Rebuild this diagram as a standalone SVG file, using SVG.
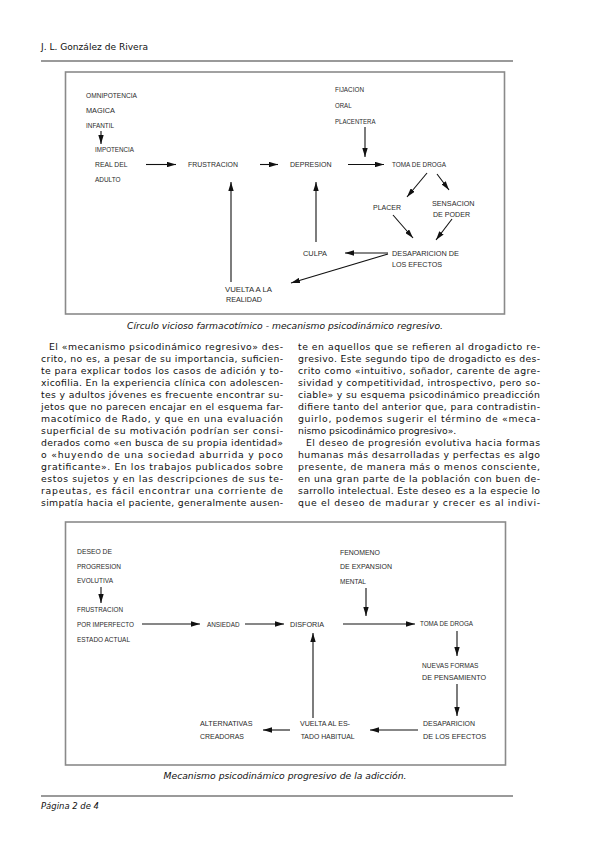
<svg xmlns="http://www.w3.org/2000/svg" width="599" height="848" viewBox="0 0 599 848">
<style>
.hdr{font-family:"DejaVu Sans","Liberation Sans",sans-serif;font-size:9.5px;fill:#111}
.cap{font-family:"DejaVu Sans","Liberation Sans",sans-serif;font-size:9px;font-style:italic;fill:#111}
.body{font-family:"DejaVu Sans","Liberation Sans",sans-serif;font-size:9.3px;fill:#111}
.lbl{font-family:"Liberation Sans","DejaVu Sans",sans-serif;font-size:7.2px;fill:#2a2a2a}
.box{fill:none;stroke:#8a8a8a;stroke-width:1.6}
.rule{stroke:#9a9a9a;stroke-width:2}
.arr{stroke:#111;stroke-width:1.1;fill:none;marker-end:url(#ah)}
</style>
<defs>
<marker id="ah" viewBox="0 0 10 6" refX="10" refY="3" markerWidth="9" markerHeight="5.4" orient="auto" markerUnits="userSpaceOnUse">
<path d="M0,0 L10,3 L0,6 z" fill="#111"/>
</marker>
</defs>
<rect width="599" height="848" fill="#fff"/>

<!-- header -->
<g id="header">
<text class="hdr" x="41" y="50" textLength="107" lengthAdjust="spacingAndGlyphs">J. L. González de Rivera</text>
<line class="rule" x1="41" y1="61" x2="513" y2="61"/>
</g>

<!-- diagram 1 -->
<g id="diagram1">
<rect class="box" x="65.5" y="72" width="439" height="242"/>
<g id="n-omnipotencia"><text class="lbl" x="86" y="98" textLength="51" lengthAdjust="spacingAndGlyphs">OMNIPOTENCIA</text><text class="lbl" x="86" y="113" textLength="29" lengthAdjust="spacingAndGlyphs">MAGICA</text><text class="lbl" x="86" y="128" textLength="28" lengthAdjust="spacingAndGlyphs">INFANTIL</text></g>
<g id="n-impotencia"><text class="lbl" x="95" y="152" textLength="39" lengthAdjust="spacingAndGlyphs">IMPOTENCIA</text><text class="lbl" x="95" y="167" textLength="32.5" lengthAdjust="spacingAndGlyphs">REAL DEL</text><text class="lbl" x="95" y="182" textLength="25.5" lengthAdjust="spacingAndGlyphs">ADULTO</text></g>
<g id="n-frustracion"><text class="lbl" x="188" y="167" textLength="50" lengthAdjust="spacingAndGlyphs">FRUSTRACION</text></g>
<g id="n-depresion"><text class="lbl" x="290" y="167" textLength="41.5" lengthAdjust="spacingAndGlyphs">DEPRESION</text></g>
<g id="n-toma1"><text class="lbl" x="392" y="167" textLength="54" lengthAdjust="spacingAndGlyphs">TOMA DE DROGA</text></g>
<g id="n-fijacion"><text class="lbl" x="335" y="92" textLength="29" lengthAdjust="spacingAndGlyphs">FIJACION</text><text class="lbl" x="335" y="108" textLength="16.5" lengthAdjust="spacingAndGlyphs">ORAL</text><text class="lbl" x="335" y="124" textLength="40.5" lengthAdjust="spacingAndGlyphs">PLACENTERA</text></g>
<g id="n-placer"><text class="lbl" x="373" y="210" textLength="28" lengthAdjust="spacingAndGlyphs">PLACER</text></g>
<g id="n-sensacion"><text class="lbl" x="432" y="206" textLength="42.5" lengthAdjust="spacingAndGlyphs">SENSACION</text><text class="lbl" x="433" y="217" textLength="37" lengthAdjust="spacingAndGlyphs">DE PODER</text></g>
<g id="n-desaparicion1"><text class="lbl" x="392" y="256" textLength="67" lengthAdjust="spacingAndGlyphs">DESAPARICION DE</text><text class="lbl" x="392" y="267" textLength="50" lengthAdjust="spacingAndGlyphs">LOS EFECTOS</text></g>
<g id="n-culpa"><text class="lbl" x="303" y="256" textLength="24" lengthAdjust="spacingAndGlyphs">CULPA</text></g>
<g id="n-vuelta1"><text class="lbl" x="225" y="292" textLength="47" lengthAdjust="spacingAndGlyphs">VUELTA A LA</text><text class="lbl" x="226" y="302" textLength="36" lengthAdjust="spacingAndGlyphs">REALIDAD</text></g>
<g id="connectors1">
<line class="arr" x1="101" y1="131" x2="101" y2="144"/>
<line class="arr" x1="146" y1="164.5" x2="176" y2="164.5"/>
<line class="arr" x1="260" y1="164.5" x2="278" y2="164.5"/>
<line class="arr" x1="348" y1="164.5" x2="384" y2="164.5"/>
<line class="arr" x1="365" y1="127" x2="365" y2="157"/>
<line class="arr" x1="427" y1="173" x2="407" y2="197"/>
<line class="arr" x1="437" y1="174" x2="449" y2="190"/>
<line class="arr" x1="393" y1="215" x2="413" y2="238"/>
<line class="arr" x1="452" y1="219" x2="436" y2="240"/>
<line class="arr" x1="388" y1="253" x2="345" y2="253"/>
<line class="arr" x1="316" y1="242" x2="316" y2="182"/>
<line class="arr" x1="388" y1="254" x2="291" y2="283"/>
<line class="arr" x1="231" y1="282" x2="231" y2="182"/>
</g>
</g>

<text class="cap" x="285" y="329" text-anchor="middle" textLength="316" lengthAdjust="spacingAndGlyphs">Círculo vicioso farmacotímico - mecanismo psicodinámico regresivo.</text>

<!-- body text left column -->
<g id="col-left">
<text class="body" x="49" y="349.5" textLength="234" lengthAdjust="spacing">El «mecanismo psicodinámico regresivo» des-</text>
<text class="body" x="41" y="361.5" textLength="242" lengthAdjust="spacing">crito, no es, a pesar de su importancia, suficien-</text>
<text class="body" x="41" y="373.5" textLength="242" lengthAdjust="spacing">te para explicar todos los casos de adición y to-</text>
<text class="body" x="41" y="385.5" textLength="242" lengthAdjust="spacing">xicofilia. En la experiencia clínica con adolescen-</text>
<text class="body" x="41" y="397.5" textLength="242" lengthAdjust="spacing">tes y adultos jóvenes es frecuente encontrar su-</text>
<text class="body" x="41" y="409.5" textLength="242" lengthAdjust="spacing">jetos que no parecen encajar en el esquema far-</text>
<text class="body" x="41" y="421.5" textLength="242" lengthAdjust="spacing">macotímico de Rado, y que en una evaluación</text>
<text class="body" x="41" y="433.5" textLength="242" lengthAdjust="spacing">superficial de su motivación podrían ser consi-</text>
<text class="body" x="41" y="445.5" textLength="242" lengthAdjust="spacing">derados como «en busca de su propia identidad»</text>
<text class="body" x="41" y="457.5" textLength="242" lengthAdjust="spacing">o «huyendo de una sociedad aburrida y poco</text>
<text class="body" x="41" y="469.5" textLength="242" lengthAdjust="spacing">gratificante». En los trabajos publicados sobre</text>
<text class="body" x="41" y="481.5" textLength="242" lengthAdjust="spacing">estos sujetos y en las descripciones de sus te-</text>
<text class="body" x="41" y="493.5" textLength="242" lengthAdjust="spacing">rapeutas, es fácil encontrar una corriente de</text>
<text class="body" x="41" y="505.5" textLength="242" lengthAdjust="spacing">simpatía hacia el paciente, generalmente ausen-</text>
</g>
<g id="col-right">
<text class="body" x="298" y="349.5" textLength="242" lengthAdjust="spacing">te en aquellos que se refieren al drogadicto re-</text>
<text class="body" x="298" y="361.5" textLength="242" lengthAdjust="spacing">gresivo. Este segundo tipo de drogadicto es des-</text>
<text class="body" x="298" y="373.5" textLength="242" lengthAdjust="spacing">crito como «intuitivo, soñador, carente de agre-</text>
<text class="body" x="298" y="385.5" textLength="242" lengthAdjust="spacing">sividad y competitividad, introspectivo, pero so-</text>
<text class="body" x="298" y="397.5" textLength="242" lengthAdjust="spacing">ciable» y su esquema psicodinámico preadicción</text>
<text class="body" x="298" y="409.5" textLength="242" lengthAdjust="spacing">difiere tanto del anterior que, para contradistin-</text>
<text class="body" x="298" y="421.5" textLength="242" lengthAdjust="spacing">guirlo, podemos sugerir el término de «meca-</text>
<text class="body" x="298" y="433.5">nismo psicodinámico progresivo».</text>
<text class="body" x="306" y="445.5" textLength="234" lengthAdjust="spacing">El deseo de progresión evolutiva hacia formas</text>
<text class="body" x="298" y="457.5" textLength="242" lengthAdjust="spacing">humanas más desarrolladas y perfectas es algo</text>
<text class="body" x="298" y="469.5" textLength="242" lengthAdjust="spacing">presente, de manera más o menos consciente,</text>
<text class="body" x="298" y="481.5" textLength="242" lengthAdjust="spacing">en una gran parte de la población con buen de-</text>
<text class="body" x="298" y="493.5" textLength="242" lengthAdjust="spacing">sarrollo intelectual. Este deseo es a la especie lo</text>
<text class="body" x="298" y="505.5" textLength="242" lengthAdjust="spacing">que el deseo de madurar y crecer es al indivi-</text>
</g>

<!-- diagram 2 -->
<g id="diagram2">
<rect class="box" x="65.5" y="522" width="440" height="243"/>
<g id="n-deseo"><text class="lbl" x="77" y="554" textLength="35" lengthAdjust="spacingAndGlyphs">DESEO DE</text><text class="lbl" x="77" y="568.5" textLength="44" lengthAdjust="spacingAndGlyphs">PROGRESION</text><text class="lbl" x="77" y="583" textLength="36" lengthAdjust="spacingAndGlyphs">EVOLUTIVA</text></g>
<g id="n-frustracion2"><text class="lbl" x="77" y="611.5" textLength="46" lengthAdjust="spacingAndGlyphs">FRUSTRACION</text><text class="lbl" x="77" y="626.5" textLength="57" lengthAdjust="spacingAndGlyphs">POR IMPERFECTO</text><text class="lbl" x="77" y="641.5" textLength="53" lengthAdjust="spacingAndGlyphs">ESTADO ACTUAL</text></g>
<g id="n-ansiedad"><text class="lbl" x="207" y="626.5" textLength="32.5" lengthAdjust="spacingAndGlyphs">ANSIEDAD</text></g>
<g id="n-disforia"><text class="lbl" x="290" y="626.5" textLength="34" lengthAdjust="spacingAndGlyphs">DISFORIA</text></g>
<g id="n-fenomeno"><text class="lbl" x="340" y="555" textLength="40" lengthAdjust="spacingAndGlyphs">FENOMENO</text><text class="lbl" x="340" y="569" textLength="52" lengthAdjust="spacingAndGlyphs">DE EXPANSION</text><text class="lbl" x="340" y="583.5" textLength="26" lengthAdjust="spacingAndGlyphs">MENTAL</text></g>
<g id="n-toma2"><text class="lbl" x="420" y="626" textLength="53" lengthAdjust="spacingAndGlyphs">TOMA DE DROGA</text></g>
<g id="n-nuevas"><text class="lbl" x="422" y="667.5" textLength="56.5" lengthAdjust="spacingAndGlyphs">NUEVAS FORMAS</text><text class="lbl" x="422" y="679.5" textLength="64" lengthAdjust="spacingAndGlyphs">DE PENSAMIENTO</text></g>
<g id="n-desaparicion2"><text class="lbl" x="423" y="725.5" textLength="52" lengthAdjust="spacingAndGlyphs">DESAPARICION</text><text class="lbl" x="423" y="738.5" textLength="63" lengthAdjust="spacingAndGlyphs">DE LOS EFECTOS</text></g>
<g id="n-vuelta2"><text class="lbl" x="300" y="725.5" textLength="50" lengthAdjust="spacingAndGlyphs">VUELTA AL ES-</text><text class="lbl" x="300.7" y="738.5" textLength="54" lengthAdjust="spacingAndGlyphs">TADO HABITUAL</text></g>
<g id="n-alternativas"><text class="lbl" x="200" y="725.5" textLength="52.5" lengthAdjust="spacingAndGlyphs">ALTERNATIVAS</text><text class="lbl" x="200" y="738.5" textLength="44" lengthAdjust="spacingAndGlyphs">CREADORAS</text></g>
<g id="connectors2">
<line class="arr" x1="101" y1="587" x2="101" y2="603"/>
<line class="arr" x1="142" y1="624" x2="200" y2="624"/>
<line class="arr" x1="245" y1="624" x2="284" y2="624"/>
<line class="arr" x1="343" y1="624" x2="415" y2="624"/>
<line class="arr" x1="366" y1="588" x2="366" y2="616"/>
<line class="arr" x1="457" y1="631" x2="457" y2="656"/>
<line class="arr" x1="457" y1="684" x2="457" y2="716"/>
<line class="arr" x1="418" y1="730" x2="370" y2="730"/>
<line class="arr" x1="290" y1="730" x2="263" y2="730"/>
<line class="arr" x1="313" y1="718" x2="313" y2="633"/>
</g>
</g>

<text class="cap" x="285" y="779" text-anchor="middle" textLength="243" lengthAdjust="spacingAndGlyphs">Mecanismo psicodinámico progresivo de la adicción.</text>

<g id="footer">
<line class="rule" x1="41" y1="796" x2="513" y2="796"/>
<text class="cap" x="41" y="809" textLength="58" lengthAdjust="spacingAndGlyphs">Página 2 de 4</text>
</g>
</svg>
